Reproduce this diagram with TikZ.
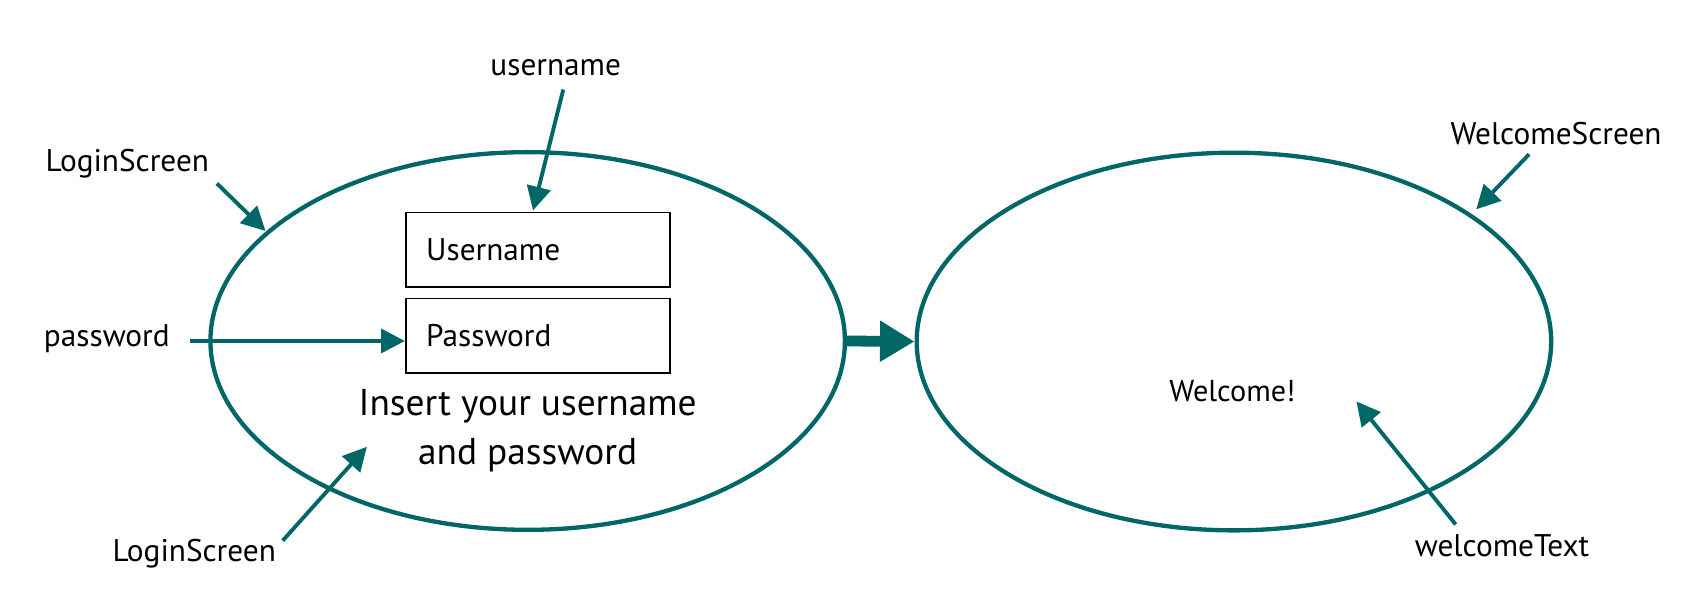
\documentclass[tikz,border=0pt]{standalone}
\usepackage{fontspec}
\setmainfont{PT Sans}
\usetikzlibrary{shapes.geometric,arrows.meta}
\definecolor{teal1}{RGB}{0,102,102}
\tikzset{
  screen/.style={ellipse, draw=teal1, line width=2pt, inner sep=0pt, minimum width=294pt, minimum height=175pt},
  field/.style={rectangle, draw=black, line width=0.8pt, minimum width=122.5pt, minimum height=34.5pt, inner xsep=9.5pt, text width=103.5pt, align=left, font=\fontsize{14.5}{16}\selectfont},
  lbl/.style={inner sep=1pt, font=\fontsize{14.5}{16}\selectfont},
  pointer/.style={draw=teal1, line width=1.8pt, -{Triangle[length=11pt,width=11pt]}, fill=teal1},
  flow/.style={draw=teal1, line width=5pt, -{Triangle[length=16pt,width=18pt]}}
}
\begin{document}
\begin{tikzpicture}[x=0.5pt,y=-0.5pt]
\useasboundingbox (0,0) rectangle (1568,561);
\node[screen] (login) at (489,316) {};
\node[screen] (welcome) at (1143.5,316.5) {};
\node[field] (ubox) at (498.5,231.5) {Username};
\node[field] (pbox) at (498.5,311) {Password};
\node[align=center, font=\fontsize{17.3}{23}\selectfont] (insert) at (489,399) {Insert your username\\and password};
\node[font=\fontsize{14}{16}\selectfont] (wtext) at (1142,362) {Welcome!};
\node[lbl] (lu) at (515,63) {username};
\node[lbl] (ls1) at (118,152) {LoginScreen};
\node[lbl] (lp) at (99,314) {password};
\node[lbl] (ls2) at (180,513) {LoginScreen};
\node[lbl] (lws) at (1442,124) {WelcomeScreen};
\node[lbl] (lwt) at (1392,506) {welcomeText};
\coordinate (lu0) at (522,83);
\coordinate (lu1) at (494,195);
\coordinate (ls10) at (201,170);
\coordinate (ls11) at (246,214);
\coordinate (lp0) at (176,316);
\coordinate (lp1) at (pbox.west |- lp0);
\coordinate (ls20) at (262,501);
\coordinate (ls21) at (340,414);
\coordinate (lws0) at (1417,143);
\coordinate (lws1) at (1368,194);
\coordinate (lwt0) at (1349,486);
\coordinate (lwt1) at (1257,372);
\draw[pointer] (lu0) -- (lu1);
\draw[pointer] (ls10) -- (ls11);
\draw[pointer] (lp0) -- (lp1);
\draw[pointer] (ls20) -- (ls21);
\draw[pointer] (lws0) -- (lws1);
\draw[pointer] (lwt0) -- (lwt1);
\draw[flow] (login.east) -- (welcome.west);
\end{tikzpicture}
\end{document}
